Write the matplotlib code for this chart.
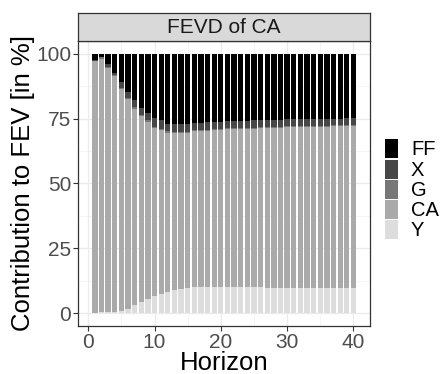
# FEVD of CA - stacked bar chart, ggplot-like look
import numpy as np
import matplotlib
matplotlib.use("Agg")
import matplotlib.pyplot as plt
from matplotlib.patches import Rectangle

plt.rcParams['font.family'] = ['Liberation Sans', 'DejaVu Sans']

# data
horizon = list(range(1, 41))
shock_names = ["Y", "CA", "G", "X", "FF"]
shock_colors = ["#dddddd", "#aaaaaa", "#777777", "#474747", "#000000"]

y_share = [0.0, 0.3, 0.3, 0.5, 0.8, 1.7, 3.0, 4.2, 5.4, 6.4,
           7.2, 8.1, 8.9, 9.3, 9.5, 9.9, 10.0, 10.0, 10.0, 10.0,
           10.0, 10.0, 10.0, 10.0, 10.0, 10.0, 9.5, 9.5, 9.5, 9.5,
           9.5, 9.5, 9.5, 9.5, 9.5, 9.5, 9.5, 9.5, 9.5, 9.5]
ca_share = [97.1, 97.7, 94.3, 90.9, 85.7, 80.8, 75.8, 71.6, 68.4, 65.0,
            63.2, 61.5, 60.5, 60.1, 59.9, 60.1, 60.1, 60.3, 60.4, 60.7,
            60.8, 60.8, 60.9, 61.0, 61.1, 61.2, 61.8, 61.9, 62.0, 62.1,
            62.2, 62.2, 62.3, 62.3, 62.4, 62.4, 62.5, 62.5, 62.5, 62.5]
g_share = [0.1, 0.7, 0.3, 0.3, 0.4, 0.5, 0.5, 0.5, 0.5, 0.5,
           0.5, 0.4, 0.4, 0.4, 0.4, 0.4, 0.4, 0.4, 0.4, 0.4,
           0.4, 0.4, 0.4, 0.4, 0.4, 0.4, 0.4, 0.4, 0.4, 0.4,
           0.4, 0.4, 0.4, 0.4, 0.4, 0.4, 0.4, 0.4, 0.4, 0.4]
x_share = [0.2, 0.0, 1.0, 1.0, 2.0, 2.2, 3.0, 2.6, 2.8, 3.2,
           3.4, 3.0, 3.2, 3.0, 3.0, 2.9, 2.8, 2.8, 2.7, 2.7,
           2.8, 2.8, 2.8, 2.8, 2.8, 2.7, 2.7, 2.7, 2.7, 2.7,
           2.7, 2.7, 2.7, 2.7, 2.7, 2.7, 2.6, 2.6, 2.7, 2.7]
ff_share = [2.6, 1.3, 4.1, 7.3, 11.1, 14.8, 17.7, 21.1, 22.9, 24.9,
            25.7, 27.0, 27.0, 27.2, 27.2, 26.7, 26.7, 26.5, 26.5, 26.2,
            26.0, 26.0, 25.9, 25.8, 25.7, 25.7, 25.6, 25.5, 25.4, 25.3,
            25.2, 25.2, 25.1, 25.1, 25.0, 25.0, 25.0, 25.0, 24.9, 24.9]

x_ticks = [0, 10, 20, 30, 40]
y_ticks = [0, 25, 50, 75, 100]

W, H = 443, 374
p_left, p_right, p_top, p_bot = 78.3, 370, 40.7, 326
fig = plt.figure(figsize=(W / 100, H / 100), dpi=100)
ax = fig.add_axes([p_left / W, 1 - p_bot / H, (p_right - p_left) / W, (p_bot - p_top) / H])

# grid
for v in [5, 15, 25, 35]:
    ax.axvline(v, color="#f2f2f2", lw=0.5, zorder=0)
for v in [12.5, 37.5, 62.5, 87.5]:
    ax.axhline(v, color="#f2f2f2", lw=0.5, zorder=0)
for v in x_ticks:
    ax.axvline(v, color="#ebebeb", lw=0.9, zorder=0)
for v in y_ticks:
    ax.axhline(v, color="#ebebeb", lw=0.9, zorder=0)

# stacked bars
series = [y_share, ca_share, g_share, x_share, ff_share]
bottom = np.zeros(len(horizon))
for name, vals, col in zip(shock_names, series, shock_colors):
    vals = np.array(vals)
    ax.bar(horizon, vals, bottom=bottom, width=0.8, color=col, label=name,
           linewidth=0, zorder=2)
    bottom += vals

ax.set_xlim(-1.5, 42.5)
ax.set_ylim(-5, 105)
ax.set_xticks(x_ticks)
ax.set_yticks(y_ticks)
ax.tick_params(axis="both", labelsize=15, colors="#333333", labelcolor="#4d4d4d",
               length=3.5, width=0.8, pad=1.5)
for s in ax.spines.values():
    s.set_color("#333333")
    s.set_linewidth(0.9)

ax.set_xlabel("Horizon", fontsize=18.5, va="baseline")
ax.xaxis.set_label_coords(0.5, (p_bot - 370) / (p_bot - p_top))
ax.set_ylabel("Contribution to FEV [in %]", fontsize=18.5, va="center")
ax.yaxis.set_label_coords((23 - p_left) / (p_right - p_left), 0.5)

# facet strip
strip = fig.add_axes([p_left / W, 1 - p_top / H, (p_right - p_left) / W, (p_top - 13.3) / H])
strip.set_facecolor("#d9d9d9")
strip.set_xticks([])
strip.set_yticks([])
for s in strip.spines.values():
    s.set_color("#333333")
    s.set_linewidth(0.9)
strip.text(0.5, 0.47, "FEVD of CA", ha="center", va="center", fontsize=15,
           color="#1a1a1a", transform=strip.transAxes)

# legend, drawn by hand so keys sit tight like ggplot (FF on top)
key_tops = [139, 159.5, 180, 200, 220]
for name, col, top in zip(shock_names[::-1], shock_colors[::-1], key_tops):
    fig.add_artist(Rectangle((385 / W, 1 - (top + 19) / H), 13 / W, 19 / H,
                             transform=fig.transFigure, facecolor=col,
                             edgecolor="none"))
    fig.text(411 / W, 1 - (top + 10.5) / H, name, fontsize=14.5,
             color="#000000", ha="left", va="center")

fig.savefig("out.png", dpi=100)
